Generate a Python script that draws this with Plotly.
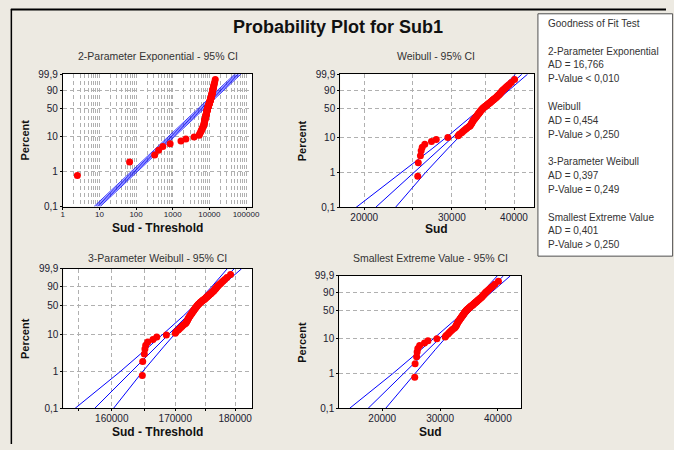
import numpy as np
import plotly.graph_objects as go

W, H = 674, 450
FONT = "Liberation Sans"

# ---------------- data ----------------
sud = [25620, 25684, 25939, 26030, 26155, 26468, 27300, 27907, 29447,
       30880, 31060, 31380, 31560, 31790, 32010, 32190, 32450,
       32635, 32710, 32820, 32870, 32950, 33020, 33100, 33150, 33250, 33330, 33410, 33490, 33570,
       33644, 33710, 33780, 33880, 33920, 33990, 34060, 34130, 34190, 34260, 34300, 34400, 34470, 34540, 34610,
       34685, 34780, 34870, 34960, 35020, 35150, 35250, 35340, 35430, 35530, 35660, 35720, 35810, 35910, 36000,
       36090, 36190,
       36280, 36380, 36470, 36540, 36670, 36760, 36860, 36960, 37050, 37190, 37250, 37340, 37440, 37530, 37630,
       37700, 37830,
       37920, 38070, 38230, 38410, 38600, 38830, 39110, 39480, 40100]

exp_threshold = 25617.5      # 2-parameter exponential threshold
w3_threshold = -139110.0     # 3-parameter Weibull threshold

fit_pct = [0.1, 99.9]
ci_pct = [0.1, 1, 5, 10, 30, 50, 70, 90, 99.9]

exp_fit = [8.7, 60100]
exp_band = [0.82, 0.91, 1.10, 1.21]

wb_fit = [21070, 41500]
wb_lo = [19250, 23790, 27480, 29260, 32470, 34230, 35640, 37300, 40300]
wb_hi = [23100, 26540, 29510, 30940, 33640, 35340, 36930, 39020, 42600]

w3_fit = [157420, 179820]
w3_lo = [154500, 161240, 165870, 167930, 171380, 173160, 174550, 176100, 178640]
w3_hi = [160270, 164740, 168200, 169780, 172580, 174260, 175770, 177660, 181100]

sev_fit = [17560, 40970]
sev_lo = [14360, 21785, 26754, 28928, 32508, 34326, 35729, 37283, 39900]
sev_hi = [20600, 25555, 29216, 30854, 33732, 35434, 36953, 38833, 42150]

pct_ticks = [0.1, 1, 10, 50, 90, 99.9]
pct_labels = ["0,1", "1", "10", "50", "90", "99,9"]

gof_lines = ["Goodness of Fit Test", "",
             "2-Parameter Exponential", "AD = 16,766", "P-Value < 0,010", "",
             "Weibull", "AD = 0,454", "P-Value > 0,250", "",
             "3-Parameter Weibull", "AD = 0,397", "P-Value = 0,249", "",
             "Smallest Extreme Value", "AD = 0,401", "P-Value > 0,250"]


def wscale(pct):
    p = np.asarray(pct, float) / 100.0
    return np.log(-np.log(1.0 - p))


xs = np.sort(np.array(sud, float))
n = len(xs)
pp = (np.arange(1, n + 1) - 0.3) / (n + 0.4) * 100.0   # median ranks
yp = wscale(pp)

RED = "#FF0000"
BLUE = "#0000FF"

fig = go.Figure()


def add_line(x, pct, k, width=1.0):
    fig.add_trace(go.Scatter(x=list(x), y=wscale(pct).tolist(), mode="lines",
                             line=dict(color=BLUE, width=width),
                             xaxis="x" + k, yaxis="y" + k, hoverinfo="skip"))


def add_pts(x, k):
    fig.add_trace(go.Scatter(x=list(x), y=yp.tolist(), mode="markers",
                             marker=dict(color=RED, size=7, line=dict(width=0)),
                             xaxis="x" + k, yaxis="y" + k))


# panel 1: exponential
add_line(exp_fit, fit_pct, "", 0.9)
for f in exp_band:
    add_line([v * f for v in exp_fit], fit_pct, "", 0.8)
add_pts(xs - exp_threshold, "")
# panel 2: Weibull
add_line(wb_lo, ci_pct, "2")
add_line(wb_fit, fit_pct, "2")
add_line(wb_hi, ci_pct, "2")
add_pts(xs, "2")
# panel 3: 3-parameter Weibull
add_line(w3_lo, ci_pct, "3")
add_line(w3_fit, fit_pct, "3")
add_line(w3_hi, ci_pct, "3")
add_pts(xs - w3_threshold, "3")
# panel 4: smallest extreme value
add_line(sev_lo, ci_pct, "4")
add_line(sev_fit, fit_pct, "4")
add_line(sev_hi, ci_pct, "4")
add_pts(xs, "4")


def dx(l, r):
    return [l / W, r / W]


def dy(t, b):
    return [1 - b / H, 1 - t / H]


GRID = dict(gridcolor="#b0b0b0", griddash="4px,3px", gridwidth=1)
TICKFONT = dict(family=FONT, size=10, color="#202030")
common = dict(showline=True, mirror=True, linecolor="black", linewidth=1, zeroline=False,
              ticks="outside", ticklen=2, tickcolor="black", tickwidth=1, **GRID)

yr = [float(wscale(0.1)), float(wscale(99.9))]
ycommon = dict(common, range=yr, tickmode="array", tickvals=wscale(pct_ticks).tolist(),
               ticktext=pct_labels, tickfont=TICKFONT)

P1 = (61.7, 254, 70, 206)
P2 = (343.3, 540, 70, 207)
P3 = (62.3, 254, 270, 413.3)
P4 = (342.3, 526.7, 277.3, 413.3)

fig.update_layout(
    width=W, height=H, margin=dict(l=0, r=0, t=0, b=0), autosize=False,
    paper_bgcolor="#EDEAE2", plot_bgcolor="white", showlegend=False,
    xaxis=dict(common, domain=dx(P1[0], P1[1]), anchor="y", type="log", range=[0, 5.17],
               tickmode="linear", tick0=0, dtick=1, tickformat="d",
               tickfont=dict(TICKFONT, size=8), ticklabelstandoff=-2,
               minor=dict(dtick="D1", showgrid=True, ticks="", **GRID)),
    yaxis=dict(ycommon, domain=dy(P1[2], P1[3]), anchor="x"),
    xaxis2=dict(common, domain=dx(P2[0], P2[1]), anchor="y2", type="log", range=[4.2527, 4.6422],
                tickmode="array", tickvals=[20000, 25000, 30000, 35000, 40000],
                ticktext=["20000", "", "30000", "", "40000"], tickfont=TICKFONT, ticklabelstandoff=-1),
    yaxis2=dict(ycommon, domain=dy(P2[2], P2[3]), anchor="x2"),
    xaxis3=dict(common, domain=dx(P3[0], P3[1]), anchor="y3", type="log", range=[5.18404, 5.26235],
                tickmode="array", tickvals=[155000, 160000, 165000, 170000, 175000, 180000],
                ticktext=["", "160000", "", "170000", "", "180000"], tickfont=TICKFONT,
                ticklabelstandoff=-1),
    yaxis3=dict(ycommon, domain=dy(P3[2], P3[3]), anchor="x3"),
    xaxis4=dict(common, domain=dx(P4[0], P4[1]), anchor="y4", range=[12549, 43990],
                tickmode="array", tickvals=[20000, 30000, 40000], ticktext=["20000", "30000", "40000"],
                tickfont=TICKFONT, showgrid=False, ticklabelstandoff=-1),
    yaxis4=dict(ycommon, domain=dy(P4[2], P4[3]), anchor="x4"),
)

ann = []


def txt(x, y, s, size=10, color="#333333", bold=False, angle=0, xanchor="center"):
    ann.append(dict(x=x / W, y=1 - y / H, xref="paper", yref="paper", showarrow=False,
                    text=("<b>%s</b>" % s) if bold else s, textangle=angle,
                    xanchor=xanchor, yanchor="middle",
                    font=dict(family=FONT, size=size, color=color)))


txt(341, 22, "Probability Plot for Sub1", size=18, color="#111111", bold=True)
txt(158, 51, "2-Parameter Exponential - 95% CI", size=10.5)
txt(441, 51, "Weibull - 95% CI", size=10.5)
txt(158, 259, "3-Parameter Weibull - 95% CI", size=10.5)
txt(434.5, 259, "Smallest Extreme Value - 95% CI", size=10.5)
for (x, y, s) in [(158, 228, "Sud - Threshold"), (441, 229, "Sud"),
                  (158, 437.5, "Sud - Threshold"), (434.5, 437.5, "Sud")]:
    txt(x, y, s, size=12, color="#111111", bold=True)
for (x, y) in [(23.5, 138), (304.5, 138), (23.5, 342), (304.5, 345)]:
    txt(x, y, "Percent", size=11, color="#111111", bold=True, angle=-90)

y0 = 18
for i, s in enumerate(gof_lines):
    if s:
        txt(552, y0 + i * 14.2, s, size=10, xanchor="left")

fig.update_layout(annotations=ann)

fig.update_layout(shapes=[
    dict(type="rect", xref="paper", yref="paper", x0=544 / W, x1=1.01, y0=1 - 257 / H, y1=1 - 8 / H,
         line=dict(color="#505050", width=1), fillcolor="white", layer="below"),
    dict(type="line", xref="paper", yref="paper", x0=9 / W, x1=1.0, y0=1 - 3.5 / H, y1=1 - 3.5 / H,
         line=dict(color="black", width=2)),
    dict(type="line", xref="paper", yref="paper", x0=9.5 / W, x1=9.5 / W, y0=0, y1=1 - 3 / H,
         line=dict(color="black", width=1.5)),
])

fig.write_html("out.html", default_width="674px", default_height="450px",
               config={"displayModeBar": False, "staticPlot": True, "responsive": False},
               post_script="document.body.style.margin='0';document.body.style.padding='0';"
                           "document.body.style.overflow='hidden';")
